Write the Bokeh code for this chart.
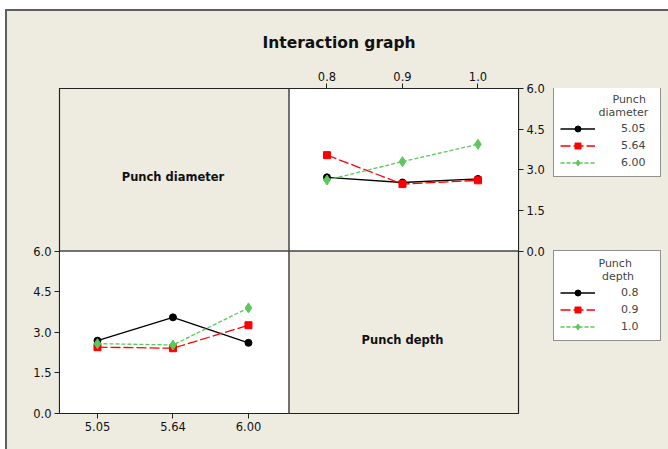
from bokeh.plotting import figure
from bokeh.layouts import row
from bokeh.models import (Range1d, LinearAxis, FixedTicker, Legend, LegendItem,
                          BoxAnnotation, Span, PrintfTickFormatter)
from bokeh.embed import file_html
from bokeh.resources import INLINE
from bokeh.core.properties import value

# ---------------- data ----------------
depth_levels = ["0.8", "0.9", "1.0"]
diam_levels = ["5.05", "5.64", "6.00"]
x_idx = [0, 1, 2]

# top-right panel: x = punch depth, one line per punch diameter
tr_d505 = [2.72, 2.53, 2.66]
tr_d564 = [3.54, 2.47, 2.61]
tr_d600 = [2.62, 3.30, 3.94]

# bottom-left panel: x = punch diameter, one line per punch depth
bl_p08 = [2.69, 3.55, 2.61]
bl_p09 = [2.45, 2.41, 3.26]
bl_p10 = [2.58, 2.53, 3.90]

y_ticks = [0.0, 1.5, 3.0, 4.5, 6.0]

# ---------------- style ----------------
BEIGE = "#EEEBE1"
FONT = "DejaVu Sans"
TICK_FS = "11.5px"
PANEL_SPAN = 3.04     # category units per panel width
FIRST_OFF = 0.503     # category units from panel edge to first level
LABEL_Y = 2.72
NB = "\u00a0"
TOP_OFF, LEFT_OFF = 11, 7          # page offset of the bordered chart box
H = 449 - TOP_OFF
W_MAIN = 543

p = figure(width=W_MAIN, height=H, output_backend="svg", toolbar_location=None,
           x_range=Range1d(0, 2), y_range=Range1d(0, 2),
           x_axis_location=None, y_axis_location=None,
           min_border_left=52, min_border_right=32, min_border_top=77, min_border_bottom=36)
p.xgrid.visible = False
p.ygrid.visible = False
p.background_fill_color = BEIGE
p.border_fill_color = BEIGE
p.outline_line_color = "#333333"
p.outline_line_width = 1.2

p.extra_x_ranges = {
    "bl": Range1d(-FIRST_OFF, -FIRST_OFF + 2 * PANEL_SPAN),
    "tr": Range1d(-FIRST_OFF - PANEL_SPAN, -FIRST_OFF + PANEL_SPAN),
}
p.extra_y_ranges = {"top": Range1d(-6, 6), "bot": Range1d(0, 12)}

# white data panels
p.add_layout(BoxAnnotation(left=1, right=2, bottom=1, top=2, fill_color="white",
                           fill_alpha=1, line_color=None, level="underlay"))
p.add_layout(BoxAnnotation(left=0, right=1, bottom=0, top=1, fill_color="white",
                           fill_alpha=1, line_color=None, level="underlay"))
p.add_layout(Span(location=1, dimension="height", line_color="#444444", line_width=1.5))
p.add_layout(Span(location=1, dimension="width", line_color="#444444", line_width=1.5))


def style_axis(ax):
    ax.axis_line_color = "#222222"
    ax.major_tick_line_color = "#222222"
    ax.major_tick_out = 5
    ax.major_tick_in = 0
    ax.minor_tick_line_color = None
    ax.major_label_text_font = FONT
    ax.major_label_text_font_size = TICK_FS
    ax.major_label_text_color = "#111111"
    ax.major_label_standoff = 3


top_ax = LinearAxis(x_range_name="tr", ticker=FixedTicker(ticks=x_idx),
                    major_label_overrides={i: t for i, t in zip(x_idx, depth_levels)})
bot_ax = LinearAxis(x_range_name="bl", ticker=FixedTicker(ticks=x_idx),
                    major_label_overrides={i: t for i, t in zip(x_idx, diam_levels)})
right_ax = LinearAxis(y_range_name="top", ticker=FixedTicker(ticks=y_ticks),
                      formatter=PrintfTickFormatter(format="%.1f"))
left_ax = LinearAxis(y_range_name="bot", ticker=FixedTicker(ticks=y_ticks),
                     formatter=PrintfTickFormatter(format="%.1f"))
for ax in (top_ax, bot_ax, right_ax, left_ax):
    style_axis(ax)
p.add_layout(top_ax, "above")
p.add_layout(bot_ax, "below")
p.add_layout(right_ax, "right")
p.add_layout(left_ax, "left")

p.title.text = "Interaction graph"
p.title.align = "left"
p.title.text_font = FONT
p.title.text_font_size = "15.5px"
p.title.text_font_style = "bold"
p.title.text_color = "#111111"
p.title.offset = 203
p.title.standoff = 33

series_style = [
    dict(color="black", dash="solid", marker="circle", size=7),
    dict(color="#FF0000", dash="10 3", marker="square", size=7),
    dict(color="#5CC85C", dash="4 2", marker="diamond", size=10),
]

# legend-only figure to the right of the matrix (its data lie outside its ranges)
lf = figure(width=668 - LEFT_OFF - W_MAIN, height=H, output_backend="svg",
            toolbar_location=None, x_range=Range1d(100, 101), y_range=Range1d(100, 101),
            x_axis_location=None, y_axis_location=None, min_border=0)
lf.xgrid.visible = False
lf.ygrid.visible = False
lf.background_fill_color = BEIGE
lf.border_fill_color = BEIGE
lf.outline_line_color = None


def draw(panel_x, panel_y, series, labels, title, loc):
    items = []
    for vals, lab, st in zip(series, labels, series_style):
        p.line(x_idx, vals, x_range_name=panel_x, y_range_name=panel_y,
               line_color=st["color"], line_width=1.3, line_dash=st["dash"])
        p.scatter(x_idx, vals, x_range_name=panel_x, y_range_name=panel_y,
                  marker=st["marker"], size=st["size"], fill_color=st["color"],
                  line_color=st["color"])
        ln = lf.line(x_idx, vals, line_color=st["color"], line_width=1.3, line_dash=st["dash"])
        sc = lf.scatter(x_idx, vals, marker=st["marker"], size=st["size"],
                        fill_color=st["color"], line_color=st["color"])
        items.append(LegendItem(label=lab, renderers=[ln, sc]))
    lg = Legend(items=items, title=title, location=loc,
                border_line_color="#222222", border_line_width=1,
                background_fill_color="white", background_fill_alpha=1,
                label_text_font=FONT, label_text_font_size="11px",
                title_text_font=FONT, title_text_font_size="11px",
                title_text_font_style="normal",
                glyph_width=35, glyph_height=15, label_height=15, label_width=33,
                label_standoff=26, spacing=2, padding=6, margin=0, title_standoff=2)
    lf.add_layout(lg, "center")


draw("tr", "top", [tr_d505, tr_d564, tr_d600], diam_levels,
     NB * 15 + "Punch\n" + NB * 11 + "diameter", (3, 236))
draw("bl", "bot", [bl_p08, bl_p09, bl_p10], depth_levels,
     NB * 11 + "Punch\n" + NB * 12 + "depth", (3, 72))

p.text(x=[1], y=[LABEL_Y], text=["Punch diameter"], x_range_name="bl", y_range_name="top",
       text_align="center", text_baseline="middle", text_font=value(FONT),
       text_font_style="bold", text_font_size="11.5px", text_color="#111111")
p.text(x=[1], y=[LABEL_Y], text=["Punch depth"], x_range_name="tr", y_range_name="bot",
       text_align="center", text_baseline="middle", text_font=value(FONT),
       text_font_style="bold", text_font_size="11.5px", text_color="#111111")

layout = row(p, lf, styles={"margin-top": "9px", "margin-left": "5px",
                            "border-top": "2px solid #5E5E5E",
                            "border-left": "2px solid #5E5E5E",
                            "background-color": BEIGE})
open("out.html", "w").write(file_html(layout, INLINE))
